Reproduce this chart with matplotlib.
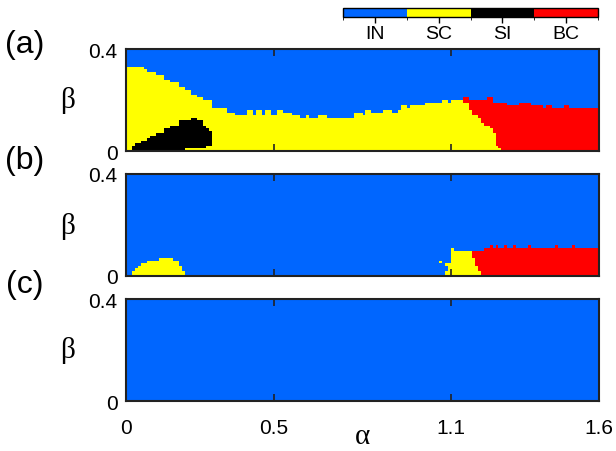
import numpy as np
import matplotlib
matplotlib.use("Agg")
import matplotlib.pyplot as plt
from matplotlib.colors import ListedColormap, BoundaryNorm

phases = ["IN", "SC", "SI", "BC"]
colors = ["#0066ff", "#ffff00", "#000000", "#ff0000"]

# grid of the scan: alpha in [0, 1.6], beta in [0, 0.4], step 0.01
alpha_edges = np.linspace(0, 1.6, 161)
beta_edges = np.linspace(0, 0.4, 41)

# boundaries, as step functions: value holds from each alpha edge on
# (a)
a_sc_edges = [0.00, 0.06, 0.07, 0.10, 0.13, 0.15, 0.18, 0.20, 0.22, 0.24, 0.26, 0.29,
              0.34, 0.37, 0.41, 0.43, 0.44, 0.46, 0.47, 0.49, 0.51, 0.53, 0.56, 0.59,
              0.61, 0.62, 0.65, 0.68, 0.77, 0.80, 0.81, 0.83, 0.87, 0.90, 0.92, 0.93,
              0.95, 0.96, 1.01, 1.07, 1.09, 1.10, 1.14]
a_sc_top = [0.33, 0.32, 0.31, 0.30, 0.28, 0.27, 0.25, 0.24, 0.22, 0.21, 0.20, 0.17,
            0.15, 0.14, 0.16, 0.14, 0.16, 0.14, 0.16, 0.14, 0.16, 0.15, 0.14, 0.13,
            0.14, 0.13, 0.14, 0.13, 0.15, 0.14, 0.16, 0.15, 0.16, 0.15, 0.16, 0.18,
            0.17, 0.18, 0.19, 0.20, 0.19, 0.20, 0.00]
a_bc_edges = [1.14, 1.16, 1.22, 1.24, 1.29, 1.33, 1.37, 1.41, 1.42, 1.44, 1.48, 1.50]
a_bc_top = [0.21, 0.20, 0.21, 0.19, 0.18, 0.19, 0.18, 0.17, 0.18, 0.17, 0.18, 0.17]
a_under_edges = [1.14, 1.16, 1.17, 1.19, 1.20, 1.21, 1.23, 1.24, 1.25, 1.26, 1.27]
a_under_top = [0.19, 0.16, 0.14, 0.13, 0.11, 0.10, 0.09, 0.07, 0.02, 0.01, 0.00]
a_si_edges = [0.00, 0.02, 0.03, 0.05, 0.07, 0.08, 0.10, 0.13, 0.15, 0.17, 0.18, 0.20,
              0.22, 0.24, 0.26, 0.27, 0.28, 0.29]
a_si_top = [0.00, 0.02, 0.035, 0.045, 0.055, 0.06, 0.07, 0.09, 0.10, 0.105, 0.115, 0.12,
            0.13, 0.12, 0.105, 0.09, 0.08, 0.00]
a_si_bot_edges = [0.00, 0.20, 0.27]
a_si_bot = [0.00, 0.01, 0.02]

# (b)
b_sc_edges = [0.00, 0.02, 0.03, 0.04, 0.05, 0.07, 0.11, 0.16, 0.18, 0.19, 0.20,
              1.08, 1.09, 1.10, 1.11, 1.17]
b_sc_top = [0.00, 0.02, 0.03, 0.04, 0.05, 0.06, 0.07, 0.06, 0.04, 0.02, 0.00,
            0.02, 0.05, 0.11, 0.10, 0.00]
b_bc_edges = [1.17, 1.21, 1.23, 1.24, 1.25, 1.26, 1.28, 1.29, 1.31, 1.32, 1.36, 1.37,
              1.45, 1.46, 1.51, 1.52]
b_bc_top = [0.10, 0.11, 0.12, 0.11, 0.12, 0.11, 0.12, 0.11, 0.12, 0.11, 0.12, 0.11,
            0.12, 0.11, 0.12, 0.11]
b_under_edges = [1.17, 1.18, 1.19, 1.20]
b_under_top = [0.07, 0.04, 0.02, 0.00]
b_sc_alpha = [1.065, 1.085]   # isolated SC cells
b_sc_beta = [0.055, 0.045]


def step(edges, vals, x):
    idx = np.searchsorted(edges, x, side="right") - 1
    return np.where(idx >= 0, np.asarray(vals)[idx.clip(0)], 0.0)


def phase_map(sc=None, bc=None, under=None, si=None, si_bot=None, cells=None):
    ac = (alpha_edges[:-1] + alpha_edges[1:]) / 2
    bc_ = (beta_edges[:-1] + beta_edges[1:]) / 2
    A, B = np.meshgrid(ac, bc_)
    m = np.zeros(A.shape, dtype=int)
    if sc:
        m[B < step(*sc, A)] = 1
    if bc:
        m[B < step(*bc, A)] = 3
    if under:
        m[B < step(*under, A)] = 1
    if si:
        m[(B < step(*si, A)) & (B >= step(*si_bot, A))] = 2
    if cells:
        for a, b in zip(*cells):
            m[int(b / 0.01), int(a / 0.01)] = 1
    return m


maps = [
    phase_map((a_sc_edges, a_sc_top), (a_bc_edges, a_bc_top), (a_under_edges, a_under_top),
              (a_si_edges, a_si_top), (a_si_bot_edges, a_si_bot)),
    phase_map((b_sc_edges, b_sc_top), (b_bc_edges, b_bc_top), (b_under_edges, b_under_top),
              cells=(b_sc_alpha, b_sc_beta)),
    phase_map(),
]

cmap = ListedColormap(colors)
norm = BoundaryNorm([-0.5, 0.5, 1.5, 2.5, 3.5], cmap.N)

plt.rcParams.update({"font.family": "Liberation Sans", "font.size": 15})
fig = plt.figure(figsize=(6.16, 4.52), dpi=100)

W, H = 616, 452
tops = [50, 175, 300]
lab_y = [45, 161, 285]
for k, (m, top, ly, lab) in enumerate(zip(maps, tops, lab_y, ["(a)", "(b)", "(c)"])):
    ax = fig.add_axes([126 / W, 1 - (top + 102) / H, 473 / W, 102 / H])
    ax.pcolormesh(alpha_edges, beta_edges, m, cmap=cmap, norm=norm, shading="flat")
    ax.set_xlim(0, 1.6)
    ax.set_ylim(0, 0.4)
    ax.set_xticks([0, 0.5, 1.1, 1.6])
    ax.set_yticks([0, 0.4])
    ax.set_yticklabels(["0", "0.4"])
    ax.tick_params(direction="in", top=True, length=5, width=1.2, colors="#222222",
                   labelcolor="black", labelsize=15, pad=6)
    if k < 2:
        ax.set_xticklabels([])
    else:
        ax.set_xticklabels(["0", "0.5", "1.1", "1.6"])
        ax.tick_params(axis="x", pad=12)
    for s in ax.spines.values():
        s.set_linewidth(1.5)
        s.set_color("#222222")
    ax.text(-0.123, 0.5, "β", transform=ax.transAxes, ha="center", va="center",
            fontsize=21, family="Liberation Serif")
    fig.text(25 / W, 1 - ly / H, lab, ha="center", va="center", fontsize=23)

fig.text(362 / W, 1 - 437 / H, "α", ha="center", va="center", fontsize=21,
         family="Liberation Serif")

cax = fig.add_axes([343 / W, 1 - 18 / H, 255 / W, 9 / H])
sm = plt.cm.ScalarMappable(norm=norm, cmap=cmap)
cb = fig.colorbar(sm, cax=cax, orientation="horizontal", ticks=[0, 1, 2, 3])
cb.set_ticklabels(phases)
cb.ax.tick_params(direction="out", length=4, width=1, labelsize=14, pad=2)
cb.outline.set_linewidth(1)

fig.savefig("out.png", dpi=100)
